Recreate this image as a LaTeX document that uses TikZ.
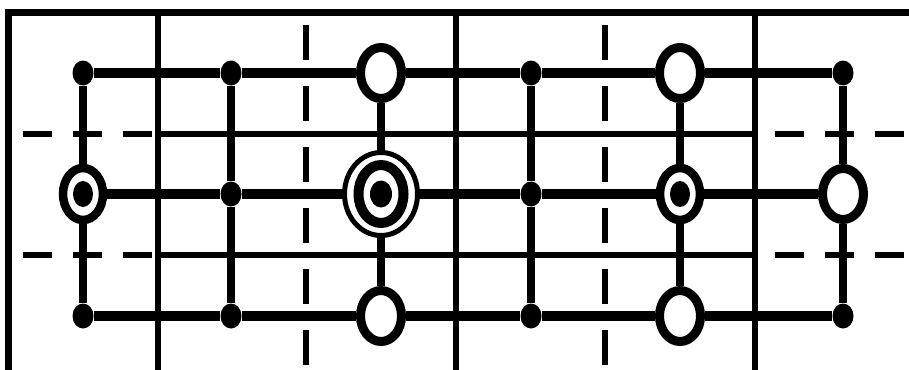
\documentclass[tikz,border=0pt]{standalone}
\usepackage{tikz}
\usetikzlibrary{shapes.geometric}

\begin{document}
\begin{tikzpicture}[x=1pt,y=-1pt,
    frame/.style={line width=6.5pt},
    grid/.style={line width=5.8pt},
    rowdash/.style={line width=5.8pt,dash pattern=on 29pt off 21pt},
    coldash/.style={line width=5.8pt,dash pattern=on 35pt off 26pt},
    bus/.style={line width=10pt},
    rung/.style={line width=8.3pt},
    dot/.style={ellipse,fill=black,inner sep=0pt,minimum width=21pt,minimum height=25pt},
    open/.style={ellipse,draw,fill=white,line width=9pt,inner sep=0pt,minimum width=41pt,minimum height=51pt},
    target/.style={open,line width=8.5pt,minimum width=40pt,minimum height=52pt,
      path picture={\fill[black] (path picture bounding box.center) ellipse [x radius=10pt,y radius=13pt];}},
    bullseye/.style={ellipse,draw,fill=white,line width=5pt,inner sep=0pt,minimum width=73pt,minimum height=83pt,
      path picture={\draw[black,line width=10pt] (path picture bounding box.center) ellipse [x radius=22.5pt,y radius=29pt];
        \fill[black] (path picture bounding box.center) ellipse [x radius=11pt,y radius=13.5pt];}}]
  \useasboundingbox (0,0) rectangle (909,369);

  % frame and thin grid
  \draw[frame] (8.5,372) |- (912,12.5);
  \draw[grid] (158,13) -- (158,372);
  \draw[grid] (456,13) -- (456,372);
  \draw[grid] (755,13) -- (755,372);
  \draw[coldash] (306,25) -- (306,372);
  \draw[coldash] (605,25) -- (605,372);
  \draw[grid] (158,134) -- (755,134);
  \draw[grid] (158,255) -- (755,255);
  \draw[rowdash] (23,134) -- (152,134);
  \draw[rowdash] (23,255) -- (152,255);
  \draw[rowdash] (775,134) -- (904,134);
  \draw[rowdash] (775,255) -- (904,255);

  % top row
  \node[dot] (a1) at (83,73) {};
  \node[dot] (a2) at (231,73) {};
  \node[open] (a3) at (381,73) {};
  \node[dot] (a4) at (531,73) {};
  \node[open] (a5) at (680,73) {};
  \node[dot] (a6) at (843,73) {};
  % middle row
  \node[target] (b1) at (83,194) {};
  \node[dot] (b2) at (231,194) {};
  \node[bullseye] (b3) at (381,194) {};
  \node[dot] (b4) at (531,194) {};
  \node[target] (b5) at (680,194) {};
  \node[open] (b6) at (843,194) {};
  % bottom row
  \node[dot] (c1) at (83,316) {};
  \node[dot] (c2) at (231,316) {};
  \node[open] (c3) at (381,316) {};
  \node[dot] (c4) at (531,316) {};
  \node[open] (c5) at (680,316) {};
  \node[dot] (c6) at (843,316) {};

  % thick connectors
  \draw[bus] (a1) -- (a2) -- (a3) -- (a4) -- (a5) -- (a6);
  \draw[bus] (b1) -- (b2) -- (b3) -- (b4) -- (b5) -- (b6);
  \draw[bus] (c1) -- (c2) -- (c3) -- (c4) -- (c5) -- (c6);
  \draw[rung] (a1) -- (b1) -- (c1);
  \draw[rung] (a2) -- (b2) -- (c2);
  \draw[rung] (a3) -- (b3) -- (c3);
  \draw[rung] (a4) -- (b4) -- (c4);
  \draw[rung] (a5) -- (b5) -- (c5);
  \draw[rung] (a6) -- (b6) -- (c6);
\end{tikzpicture}
\end{document}
